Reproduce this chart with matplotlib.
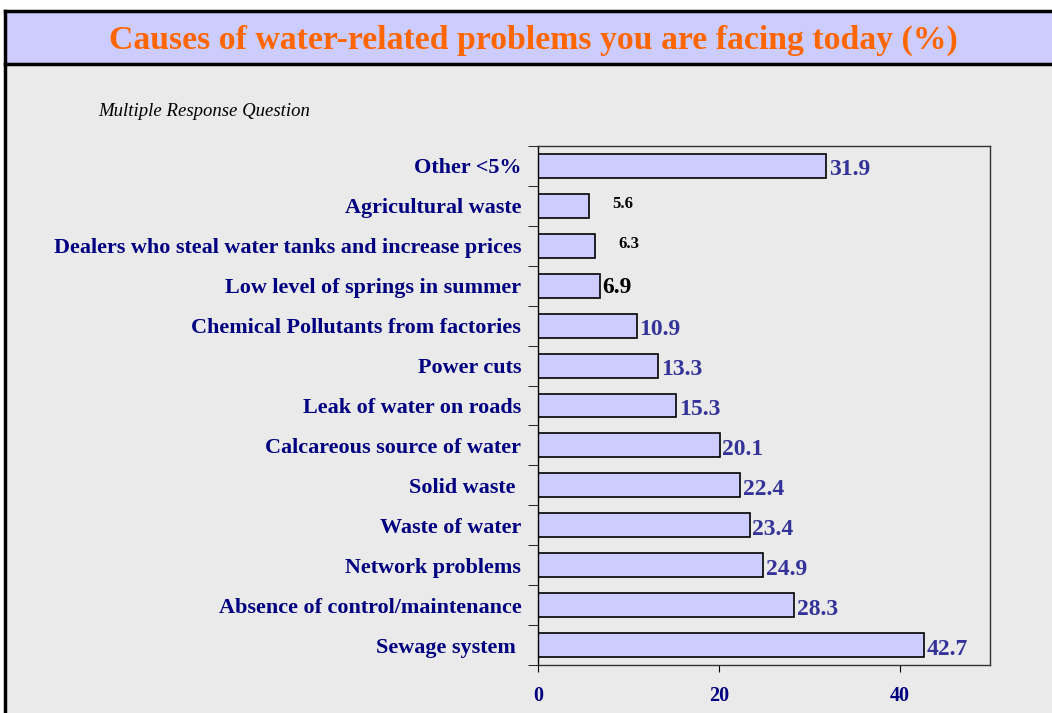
import matplotlib.pyplot as plt
from matplotlib.patches import Rectangle
from matplotlib.lines import Line2D

# categories from top to bottom as in the chart
causes = ["Other <5%", "Agricultural waste",
          "Dealers who steal water tanks and increase prices",
          "Low level of springs in summer",
          "Chemical Pollutants from factories", "Power cuts",
          "Leak of water on roads", "Calcareous source of water",
          "Solid waste ", "Waste of water", "Network problems",
          "Absence of control/maintenance", "Sewage system "]
percent = [31.9, 5.6, 6.3, 6.9, 10.9, 13.3, 15.3, 20.1, 22.4, 23.4, 24.9, 28.3, 42.7]
x_ticks = [0, 20, 40]

plt.rcParams['font.family'] = ['Liberation Serif', 'DejaVu Serif']

navy = '#000080'
value_blue = '#333399'
bg = '#EAEAEA'

fig = plt.figure(figsize=(10.52, 7.13), dpi=100)
fig.patch.set_facecolor('white')
W, H = 1052, 713

def fx(px):
    return px / W

def fy(py):
    return 1 - py / H

# grey panel and lavender title band
fig.patches.append(Rectangle((fx(5), 0), 1, fy(11), transform=fig.transFigure,
                             facecolor=bg, edgecolor='none', zorder=-3))
fig.patches.append(Rectangle((fx(5), fy(64)), 1, fy(11) - fy(64), transform=fig.transFigure,
                             facecolor='#CCCCFF', edgecolor='none', zorder=-2))
for line in [Line2D([fx(5), fx(5)], [0, fy(11)], color='black', lw=2.5, zorder=-1),
             Line2D([fx(5), 1], [fy(11), fy(11)], color='black', lw=2.5, zorder=-1),
             Line2D([fx(5), 1], [fy(64), fy(64)], color='black', lw=2.5, zorder=-1)]:
    line.set_transform(fig.transFigure)
    fig.lines.append(line)

fig.text(fx(533), fy(40), "Causes of water-related problems you are facing today (%)",
         ha='center', va='center', color='#FF6600', fontsize=24.3, fontweight='bold')
fig.text(fx(98), fy(112), "Multiple Response Question", ha='left', va='center',
         fontsize=13.5, style='italic', color='black')

ax = fig.add_axes([fx(538), fy(665), fx(990) - fx(538), fy(146) - fy(665)])
ax.set_facecolor(bg)

ypos = list(range(len(causes)))[::-1]
ax.barh(ypos, percent, height=0.6, color='#CCCCFF', edgecolor='black', linewidth=1.2)

ax.set_xlim(0, 50)
ax.set_ylim(-0.5, len(causes) - 0.5)
ax.set_xticks(x_ticks)
ax.set_xticklabels([str(t) for t in x_ticks], fontsize=14.5, fontweight='bold', color=navy)
ax.tick_params(axis='x', direction='out', length=5, pad=10)

ax.set_yticks(ypos)
ax.set_yticklabels(causes, fontsize=15.9, fontweight='bold', color=navy)
ax.tick_params(axis='y', length=0, pad=12)
ax.set_yticks([y - 0.5 for y in range(len(causes) + 1)], minor=True)
ax.tick_params(axis='y', which='minor', direction='out', length=7)

for sp in ax.spines.values():
    sp.set_linewidth(1.0)
    sp.set_color('#333333')
ax.spines['left'].set_color('black')

for y, v in zip(ypos, percent):
    if v in (5.6, 6.3):
        ax.text(v + 2.6, y + 0.05, f"{v}", va='center', ha='left', fontsize=12,
                fontweight='bold', color='black')
    elif v == 6.9:
        ax.text(v + 0.2, y - 0.05, f"{v}", va='center', ha='left', fontsize=17,
                fontweight='bold', color='black')
    else:
        ax.text(v + 0.3, y - 0.1, f"{v}", va='center', ha='left', fontsize=17,
                fontweight='bold', color=value_blue)

fig.savefig('out.png', dpi=100, facecolor=fig.get_facecolor())
